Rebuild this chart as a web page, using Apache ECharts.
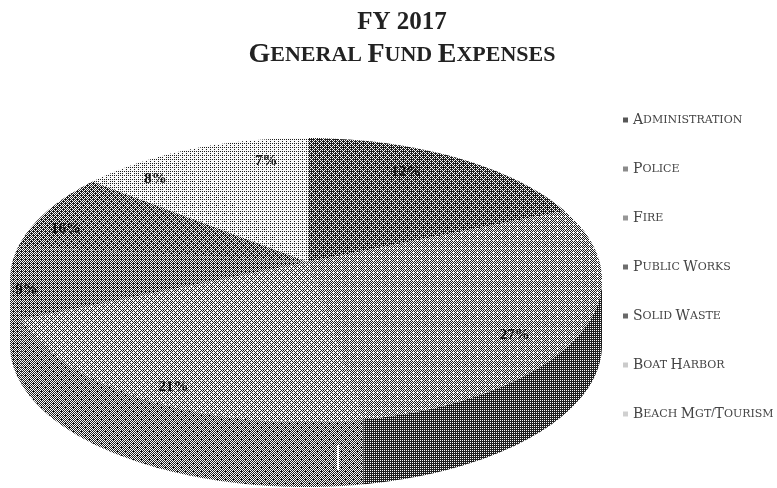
<!DOCTYPE html>
<html><head><meta charset="utf-8">
<style>html,body{margin:0;padding:0;background:#fff}#c{width:777px;height:488px}</style>
<script src="https://cdn.jsdelivr.net/npm/echarts@6/dist/echarts.min.js"></script>
</head><body><div id="c"></div>
<script>
const categories = ['Administration','Police','Fire','Public Works','Solid Waste','Boat Harbor','Beach Mgt/Tourism'];
const shares = [12, 27, 21, 9, 16, 8, 7];
const topGrays = [87, 139, 151, 110, 105, 203, 208];
const wallGrays = [87, 64, 118, 110, 105, 203, 208];
const titleLines = ['FY 2017', 'General Fund Expenses'];
const labelNudge = [[-24, -3], [-4, -9], [-8, 2], [-28, 11], [-23, 10], [3, -5], [22, -2]];

// Layout of the tilted pie.
const CX = 306, CY = 280, RX = 296, RY = 142, DEPTH = 65, APEX = [308, 262];
const rad = d => d * Math.PI / 180;
// Perspective warp from true angle to ellipse parameter.
function view(thetaDeg) {
  const t = rad(thetaDeg);
  return thetaDeg + 22.36 + 1.76 * Math.sin(t) - 15.7 * Math.cos(t) + 6.05 * Math.sin(2 * t) - 6.26 * Math.cos(2 * t);
}
const rim = (phi, k = 1, dy = 0) => [CX + k * RX * Math.sin(rad(phi)), CY - k * RY * Math.cos(rad(phi)) + dy];

const BAYER = [[0,32,8,40,2,34,10,42],[48,16,56,24,50,18,58,26],[12,44,4,36,14,46,6,38],[60,28,52,20,62,30,54,22],
               [3,35,11,43,1,33,9,41],[51,19,59,27,49,17,57,25],[15,47,7,39,13,45,5,37],[63,31,55,23,61,29,53,21]];
function dither(gray) {
  const c = document.createElement('canvas'); c.width = c.height = 8;
  const g = c.getContext('2d'), img = g.createImageData(8, 8);
  for (let y = 0; y < 8; y++) for (let x = 0; x < 8; x++) {
    const on = (BAYER[y][x] + .5) / 64 < gray / 255, i = (y * 8 + x) * 4, v = on ? 250 : 30;
    img.data[i] = img.data[i + 1] = img.data[i + 2] = v; img.data[i + 3] = 255;
  }
  g.putImageData(img, 0, 0);
  return { image: c, repeat: 'repeat' };
}
const smallCaps = (s, big, small) => s.replace(/[A-Z0-9]+|[a-z]+/g, m =>
  /[a-z]/.test(m) ? `{${small}|${m.toUpperCase()}}` : `{${big}|${m}}`).replace(/ /g, `{${small}| }`);

function sliceRenderer(idx) {
  const topFill = dither(topGrays[idx]), wallFill = dither(wallGrays[idx]);
  return function (params, api) {
    const value = api.value(0), before = api.value(1);
    const a0 = view(before * 3.6), a1 = view((before + value) * 3.6);
    const top = [APEX];
    for (let a = a0; a <= a1; a += 1) top.push(rim(a));
    top.push(rim(a1));
    const children = [];
    // Side wall: only the part of the rim that faces the viewer.
    const w0 = Math.max(a0, 90), w1 = Math.min(a1, 270);
    if (w1 > w0) {
      const up = [], down = [];
      for (let a = w0; a <= w1; a += 1) { up.push(rim(a)); down.unshift(rim(a, 1, DEPTH)); }
      up.push(rim(w1)); down.unshift(rim(w1, 1, DEPTH));
      children.push({ type: 'polygon', z2: 1, shape: { points: up.concat(down) }, style: { fill: wallFill } });
    }
    children.push({ type: 'polygon', z2: 2, shape: { points: top }, style: { fill: topFill } });
    const m = rim(view((before + value / 2) * 3.6), .85);
    children.push({ type: 'text', z2: 5, x: m[0] + labelNudge[idx][0], y: m[1] + labelNudge[idx][1], style: {
      text: value + '%', font: 'bold 15px "Liberation Serif"', fill: '#111', align: 'center', verticalAlign: 'middle' } });
    return { type: 'group', children };
  };
}

const chart = echarts.init(document.getElementById('c'), null, { renderer: 'canvas', width: 777, height: 488 });
let running = 0;
chart.setOption({
  animation: false,
  backgroundColor: '#fff',
  title: [
    { text: titleLines[0], left: 397, top: 5, textAlign: 'center',
      textStyle: { fontFamily: 'Liberation Serif', fontWeight: 'bold', fontSize: 25, color: '#222' } },
    { text: smallCaps(titleLines[1], 'b', 's'), left: 397, top: 36, textAlign: 'center',
      textStyle: { rich: {
        b: { fontFamily: 'Liberation Serif', fontSize: 28, color: '#222' },
        s: { fontFamily: 'Liberation Serif', fontSize: 22, color: '#222' } } } }
  ],
  legend: {
    orient: 'vertical', left: 618, top: 108, itemWidth: 5, itemHeight: 5, itemGap: 35, icon: 'rect',
    data: categories, selectedMode: false,
    formatter: n => smallCaps(n, 'b', 's'),
    textStyle: { rich: {
      b: { fontFamily: 'DejaVu Serif', fontSize: 14, lineHeight: 12, color: '#444' },
      s: { fontFamily: 'DejaVu Serif', fontSize: 11, lineHeight: 12, color: '#444' } } }
  },
  graphic: [{ type: 'line', z: 10, shape: { x1: 338, y1: 445, x2: 338, y2: 470 }, style: { stroke: '#fff', lineWidth: 2 } }],
  series: categories.map((name, i) => {
    const before = running; running += shares[i];
    const g = topGrays[i];
    return { type: 'custom', name, coordinateSystem: 'none', silent: true,
      itemStyle: { color: `rgb(${g},${g},${g})` },
      renderItem: sliceRenderer(i), data: [[shares[i], before]] };
  })
});
</script></body></html>
